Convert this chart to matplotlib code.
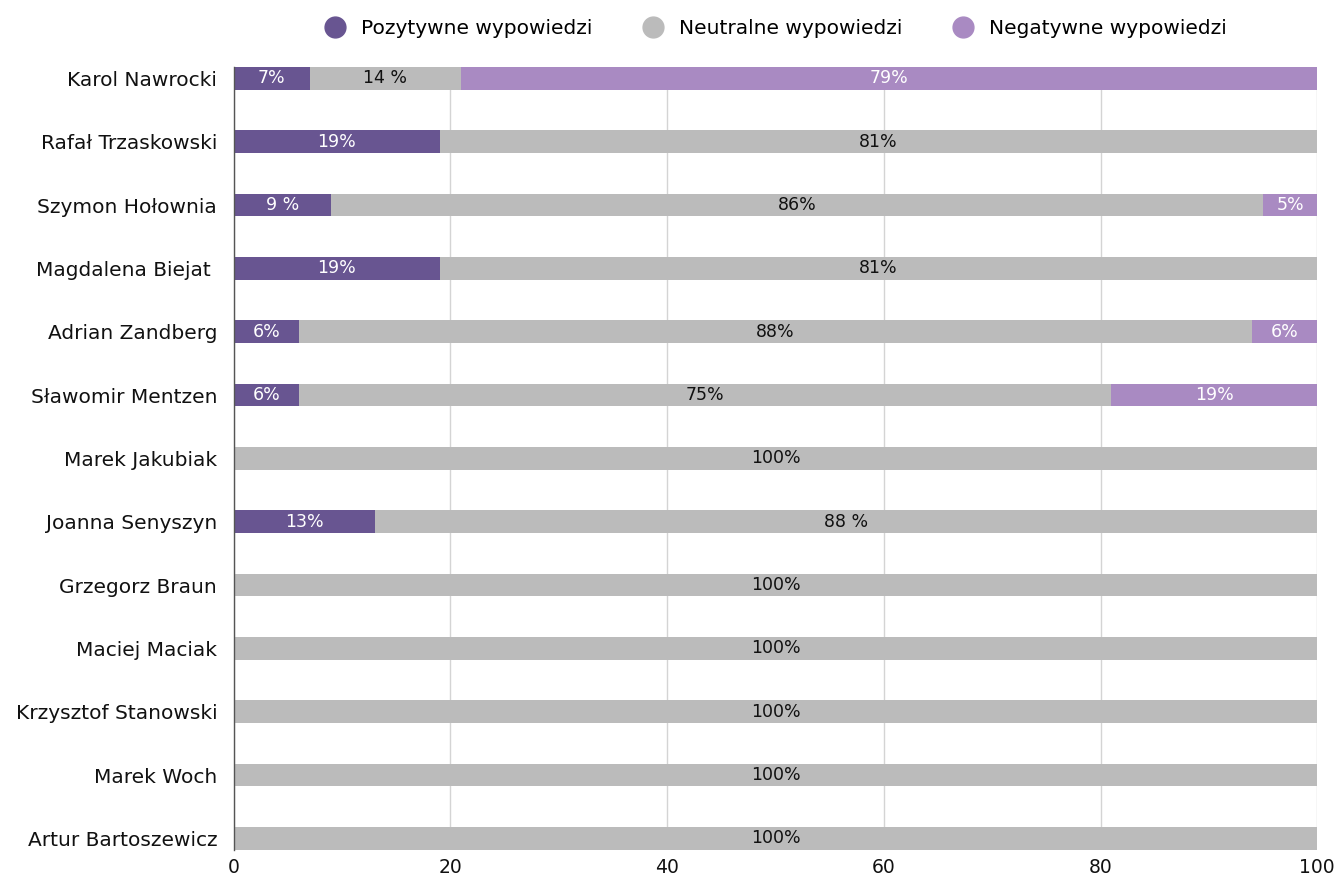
import matplotlib
matplotlib.use("Agg")
import matplotlib.pyplot as plt
from matplotlib.lines import Line2D

plt.rcParams["font.family"] = ["DejaVu Sans"]

# data
candidates = [
    "Karol Nawrocki", "Rafał Trzaskowski", "Szymon Hołownia", "Magdalena Biejat ",
    "Adrian Zandberg", "Sławomir Mentzen", "Marek Jakubiak", "Joanna Senyszyn",
    "Grzegorz Braun", "Maciej Maciak", "Krzysztof Stanowski", "Marek Woch",
    "Artur Bartoszewicz",
]
positive = [7, 19, 9, 19, 6, 6, 0, 13, 0, 0, 0, 0, 0]
neutral = [14, 81, 86, 81, 88, 75, 100, 88, 100, 100, 100, 100, 100]
negative = [79, 0, 5, 0, 6, 19, 0, 0, 0, 0, 0, 0, 0]
# labels as printed in the source (some have a space before %)
pos_labels = ["7%", "19%", "9 %", "19%", "6%", "6%", "", "13%", "", "", "", "", ""]
neu_labels = ["14 %", "81%", "86%", "81%", "88%", "75%", "100%", "88 %",
              "100%", "100%", "100%", "100%", "100%"]
neg_labels = ["79%", "", "5%", "", "6%", "19%", "", "", "", "", "", "", ""]
series_names = ["Pozytywne wypowiedzi", "Neutralne wypowiedzi", "Negatywne wypowiedzi"]

COLORS = ["#685591", "#bbbbbb", "#a98ac2"]
TEXT_COLORS = ["white", "#111111", "white"]

fig = plt.figure(figsize=(13.36, 8.77), dpi=100)
ax = fig.add_axes([0.175, 0.031, 0.811, 0.8926])

y = list(range(len(candidates)))
left = [0] * len(candidates)
for vals, labels, color, tcol, name in zip(
        [positive, neutral, negative], [pos_labels, neu_labels, neg_labels],
        COLORS, TEXT_COLORS, series_names):
    ax.barh(y, vals, left=left, height=0.36, color=color, label=name, zorder=3)
    for yi, (l, v, lab) in enumerate(zip(left, vals, labels)):
        if v > 0 and lab:
            cx = l + min(v, 100 - l) / 2
            ax.text(cx, yi, lab, ha="center", va="center", fontsize=12.5,
                    color=tcol, zorder=4)
    left = [a + b for a, b in zip(left, vals)]

ax.set_xlim(0, 100)
ax.set_ylim(len(candidates) - 1 + 0.18, -0.18)
ax.set_yticks(y)
ax.set_yticklabels(candidates, fontsize=14.5, color="#111111")
ax.set_xticks([0, 20, 40, 60, 80, 100])
ax.tick_params(axis="x", labelsize=13.5, length=0, pad=6, colors="#111111")
ax.tick_params(axis="y", length=0, pad=12)
ax.grid(axis="x", color="#d4d4d4", linewidth=1, zorder=0)
for s in ["top", "right", "bottom"]:
    ax.spines[s].set_visible(False)
ax.spines["left"].set_color("#555555")
ax.spines["left"].set_linewidth(1)
ax.spines["left"].set_zorder(5)

handles = [Line2D([0], [0], marker="o", linestyle="", markersize=15,
                  markerfacecolor=c, markeredgecolor=c) for c in COLORS]
fig.legend(handles, series_names, loc="center", bbox_to_anchor=(0.577, 0.968),
           ncol=3, frameon=False, fontsize=14.5, handletextpad=0.3,
           columnspacing=2.0)

fig.savefig("out.png", dpi=100)
